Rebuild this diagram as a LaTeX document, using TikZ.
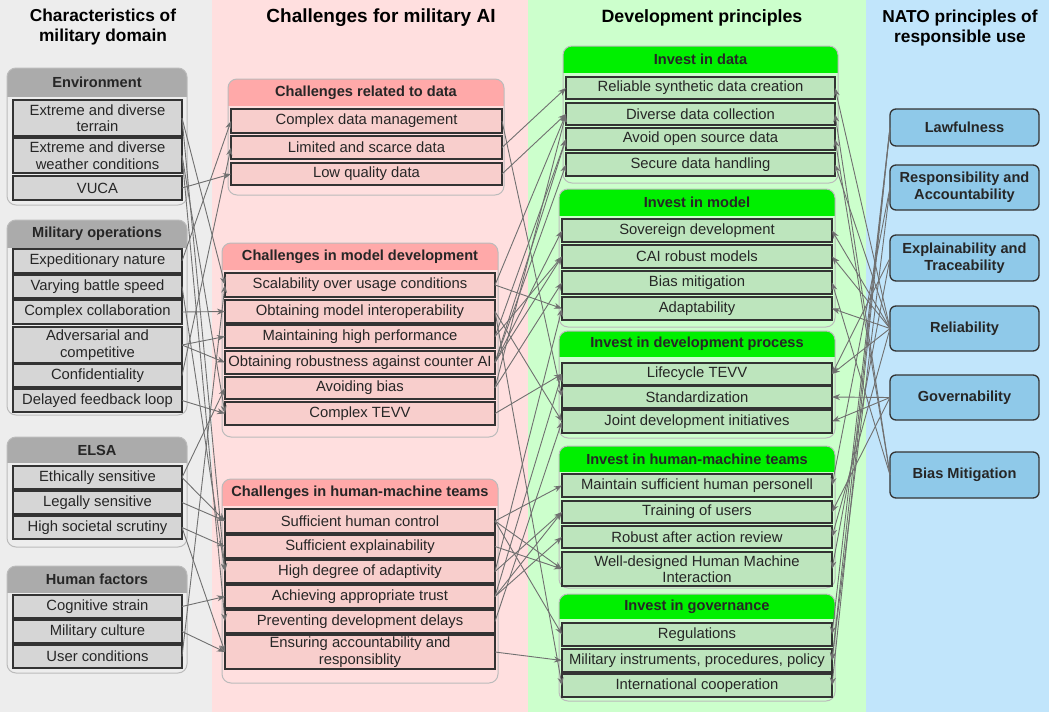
\documentclass[tikz,border=0pt]{standalone}
\usepackage{fontspec}
\setmainfont{Liberation Sans}
\usetikzlibrary{arrows.meta}
\definecolor{bgA}{HTML}{EDEDED}
\definecolor{bgB}{HTML}{FFDFDF}
\definecolor{bgC}{HTML}{CCFFCC}
\definecolor{bgD}{HTML}{C1E5FB}
\definecolor{hdA}{HTML}{ABABAB}
\definecolor{hdB}{HTML}{FFA9A9}
\definecolor{hdC}{HTML}{00F000}
\definecolor{itA}{HTML}{D6D6D6}
\definecolor{itB}{HTML}{F8CECC}
\definecolor{itC}{HTML}{BDE5BD}
\definecolor{natofill}{HTML}{8FC9E9}
\definecolor{txt}{HTML}{262626}
\definecolor{edge}{HTML}{333333}
\definecolor{lanegray}{HTML}{BBBBBB}
\definecolor{conncol}{HTML}{707070}
\tikzset{
  itembox/.style={draw=edge, line width=1.3pt, inner sep=0pt, outer sep=0pt, align=center, text=txt, font=\fontsize{14.8}{16.5}\selectfont},
  itemA/.style={itembox, fill=itA},
  itemB/.style={itembox, fill=itB},
  itemC/.style={itembox, fill=itC},
  natobox/.style={draw=edge, line width=1.3pt, rounded corners=6pt, fill=natofill, inner sep=0pt, outer sep=0pt, align=center, text=txt, font=\bfseries\fontsize{14.6}{17}\selectfont},
  hdrtext/.style={font=\bfseries\fontsize{14.6}{16}\selectfont, text=txt, inner sep=0pt},
  coltitle/.style={font=\bfseries\fontsize{17.3}{20}\selectfont, align=center, inner sep=0pt},
  lanebody/.style={draw=lanegray, line width=1pt, rounded corners=9pt},
  conn/.style={draw=conncol, line width=0.9pt, -{Stealth[length=8pt,width=6pt]}},
}
\newcommand\bx[7]{%
  \pgfmathsetmacro\bxW{#5-#3}\pgfmathsetmacro\bxH{#6-#4}%
  \pgfmathsetmacro\bxX{(#3+#5)/2}\pgfmathsetmacro\bxY{(#4+#6)/2}%
  \node[#1, minimum width=\bxW pt, minimum height=\bxH pt] (#2) at (\bxX,\bxY) {#7};}
\newcommand\lane[9]{%
  \fill[#1, rounded corners=9pt] (#3,#4) rectangle (#5,#6);
  \begin{scope}
    \clip[rounded corners=9pt] (#3,#4) rectangle (#5,#6);
    \fill[#2] (#3,#4) rectangle (#5,#7);
  \end{scope}
  \draw[lanebody] (#3,#4) rectangle (#5,#6);
  \pgfmathsetmacro\lnX{(#3+#5)/2}\pgfmathsetmacro\lnY{(#4+#7)/2}%
  \node[hdrtext] (#8) at (\lnX,\lnY) {#9};}
\begin{document}
\begin{tikzpicture}[x=1pt,y=-1pt]
% backgrounds
\fill[bgA] (0,0) rectangle (212,712);
\fill[bgB] (212,0) rectangle (528,712);
\fill[bgC] (528,0) rectangle (866,712);
\fill[bgD] (866,0) rectangle (1049,712);
\useasboundingbox (0,0) rectangle (1049,712);
% titles
\node[coltitle] (t1) at (103,27) {Characteristics of\\military domain};
\node[coltitle, font=\bfseries\fontsize{19}{22}\selectfont] (t2) at (381,18) {Challenges for military AI};
\node[coltitle, font=\bfseries\fontsize{17.8}{20}\selectfont] (t3) at (702,18) {Development principles};
\node[coltitle] (t4) at (960,28) {NATO principles of\\responsible use};
% ---- column 1
\lane{bgA}{hdA}{7}{68}{187}{205}{97}{envh}{Environment}
\bx{itemA}{e1}{13}{100}{182}{136}{Extreme and diverse\\terrain}
\bx{itemA}{e2}{13}{138}{182}{173}{Extreme and diverse\\weather conditions}
\bx{itemA}{e3}{13}{176}{182}{200}{VUCA}
\lane{bgA}{hdA}{7}{220}{187}{415}{248}{moh}{Military operations}
\bx{itemA}{m1}{13}{249}{182}{273}{Expeditionary nature}
\bx{itemA}{m2}{13}{275}{182}{298}{Varying battle speed}
\bx{itemA}{m3}{13}{300}{182}{324}{Complex collaboration}
\bx{itemA}{m4}{13}{327}{182}{363}{Adversarial and\\competitive}
\bx{itemA}{m5}{13}{364}{182}{387}{Confidentiality}
\bx{itemA}{m6}{13}{389}{182}{412}{Delayed feedback loop}
\lane{bgA}{hdA}{7}{437}{187}{547}{463}{elh}{ELSA}
\bx{itemA}{l1}{13}{466}{182}{489}{Ethically sensitive}
\bx{itemA}{l2}{13}{491}{182}{514}{Legally sensitive}
\bx{itemA}{l3}{13}{516}{182}{539}{High societal scrutiny}
\lane{bgA}{hdA}{7}{566}{187}{673}{593}{hfh}{Human factors}
\bx{itemA}{h1}{13}{595}{182}{618}{Cognitive strain}
\bx{itemA}{h2}{13}{620}{182}{643}{Military culture}
\bx{itemA}{h3}{13}{645}{182}{668}{User conditions}
% ---- column 2
\lane{bgB}{hdB}{228}{79}{504}{195}{106}{dh}{Challenges related to data}
\bx{itemB}{d1}{231}{109}{502}{133}{Complex data management}
\bx{itemB}{d2}{231}{136}{502}{159}{Limited and scarce data}
\bx{itemB}{d3}{231}{163}{502}{185}{Low quality data}
\lane{bgB}{hdB}{222}{243}{498}{437}{270}{mdh}{Challenges in model development}
\bx{itemB}{md1}{225}{273}{495}{297}{Scalability over usage conditions}
\bx{itemB}{md2}{225}{300}{495}{323}{Obtaining model interoperability}
\bx{itemB}{md3}{225}{325}{495}{348}{Maintaining high performance}
\bx{itemB}{md4}{225}{351}{495}{374}{Obtaining robustness against counter AI}
\bx{itemB}{md5}{225}{377}{495}{399}{Avoiding bias}
\bx{itemB}{md6}{225}{402}{495}{425}{Complex TEVV}
\lane{bgB}{hdB}{222}{479}{498}{683}{506}{hth}{Challenges in human-machine teams}
\bx{itemB}{ht1}{225}{509}{495}{533}{Sufficient human control}
\bx{itemB}{ht2}{225}{535}{495}{558}{Sufficient explainability}
\bx{itemB}{ht3}{225}{560}{495}{583}{High degree of adaptivity}
\bx{itemB}{ht4}{225}{585}{495}{608}{Achieving appropriate trust}
\bx{itemB}{ht5}{225}{610}{495}{633}{Preventing development delays}
\bx{itemB}{ht6}{225}{635}{495}{669}{Ensuring accountability and\\responsiblity}
% ---- column 3
\lane{bgC}{hdC}{563}{46}{838}{183}{73}{idh}{Invest in data}
\bx{itemC}{id1}{566}{77}{835}{99}{Reliable synthetic data creation}
\bx{itemC}{id2}{566}{103}{835}{125}{Diverse data collection}
\bx{itemC}{id3}{566}{128}{835}{150}{Avoid open source data}
\bx{itemC}{id4}{566}{153}{835}{176}{Secure data handling}
\lane{bgC}{hdC}{559}{189}{835}{327}{216}{imh}{Invest in model}
\bx{itemC}{im1}{562}{219}{832}{242}{Sovereign development}
\bx{itemC}{im2}{562}{245}{832}{268}{CAI robust models}
\bx{itemC}{im3}{562}{271}{832}{294}{Bias mitigation}
\bx{itemC}{im4}{562}{297}{832}{320}{Adaptability}
\lane{bgC}{hdC}{559}{331}{835}{438}{357}{iph}{Invest in development process}
\bx{itemC}{ip1}{562}{363}{832}{385}{Lifecycle TEVV}
\bx{itemC}{ip2}{562}{386}{832}{408}{Standardization}
\bx{itemC}{ip3}{562}{410}{832}{433}{Joint development initiatives}
\lane{bgC}{hdC}{559}{446}{835}{588}{472}{ihh}{Invest in human-machine teams}
\bx{itemC}{ih1}{562}{474}{832}{497}{Maintain sufficient human personell}
\bx{itemC}{ih2}{562}{501}{832}{523}{Training of users}
\bx{itemC}{ih3}{562}{526}{832}{548}{Robust after action review}
\bx{itemC}{ih4}{562}{552}{832}{586}{Well-designed Human Machine\\Interaction}
\lane{bgC}{hdC}{559}{594}{835}{701}{619}{igh}{Invest in governance}
\bx{itemC}{ig1}{562}{623}{832}{646}{Regulations}
\bx{itemC}{ig2}{562}{649}{832}{672}{Military instruments, procedures, policy}
\bx{itemC}{ig3}{562}{674}{832}{697}{International cooperation}
% ---- column 4
\bx{natobox}{law}{890}{109}{1039}{146}{Lawfulness}
\bx{natobox}{resp}{890}{165}{1039}{210}{Responsibility and\\Accountability}
\bx{natobox}{expl}{890}{235}{1039}{281}{Explainability and\\Traceability}
\bx{natobox}{rel}{890}{306}{1039}{351}{Reliability}
\bx{natobox}{govn}{890}{375}{1039}{420}{Governability}
\bx{natobox}{bias}{890}{452}{1039}{498}{Bias Mitigation}
% ---- connectors column 1 -> column 2
\foreach \a/\b in {e1/md1, e1/ht3, e2/md6, e2/ht5, e3/d3, m1/d1, m2/ht3, m3/md2, m4/md3, m4/md4, m5/d2, m6/md6, l1/md5, l1/ht1, l2/ht1, l3/ht2, l3/ht6, h1/ht4, h2/ht6, h3/md1}
  \draw[conn] (\a.east) -- (\b.west);
% ---- connectors column 2 -> column 3
\foreach \a/\b in {d1/ip2, d2/id1, d3/id2, md1/id2, md1/im4, md2/ip3, md2/ig3, md3/im2, md3/id3, md4/id4, md4/id3, md4/im1, md4/im2, md5/im3, md5/id2, md6/ip1, ht1/ih1, ht1/ih4, ht1/ig1, ht2/ih4, ht3/im4, ht3/ih2, ht4/ih2, ht4/ip1, ht4/ih3, ht5/ip3, ht6/ig2}
  \draw[conn] (\a.east) -- (\b.west);
% ---- connectors column 4 -> column 3
\foreach \a/\b in {law/ig1, law/ig2, law/ig3, resp/ig2, resp/ih1, expl/ih4, expl/ip1, rel/id1, rel/id4, rel/im1, rel/im2, rel/im4, rel/ip1, rel/ih3, govn/ip2, govn/ip3, govn/ih2, bias/id2, bias/id3, bias/im3}
  \draw[conn] (\a.west) -- (\b.east);
\end{tikzpicture}
\end{document}
